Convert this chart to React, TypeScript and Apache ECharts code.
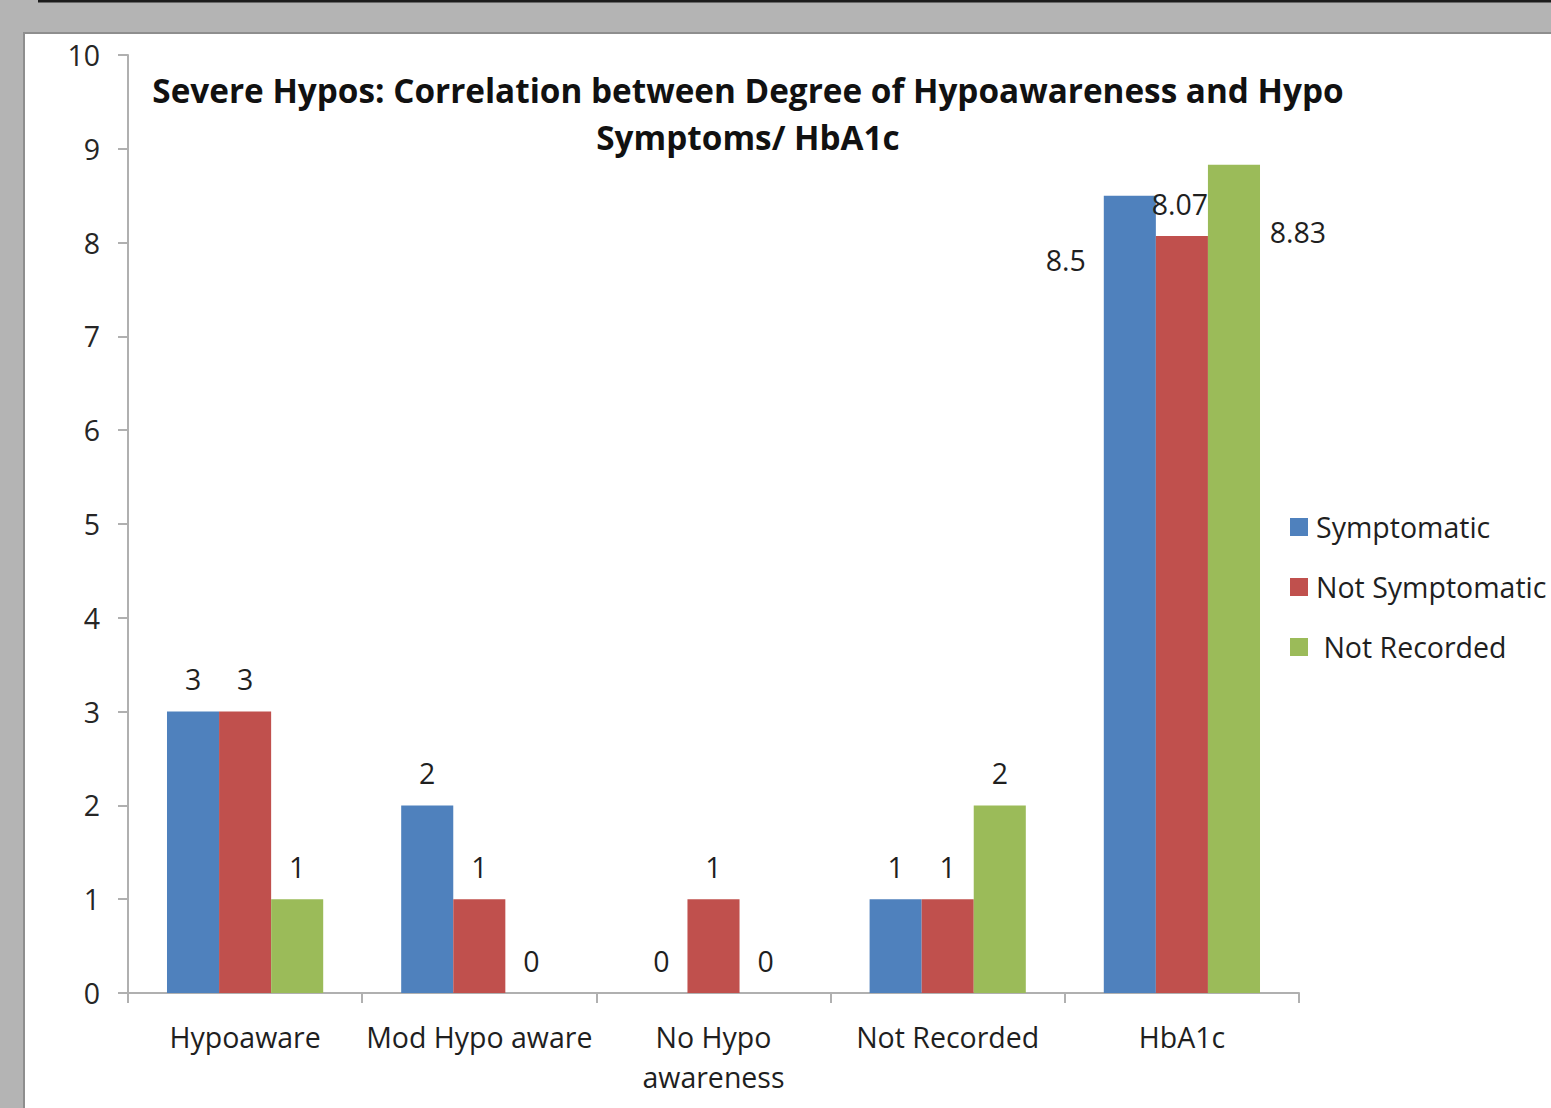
import React, { useEffect, useRef } from "react";
import * as echarts from "echarts";

const categories = ["Hypoaware", "Mod Hypo aware", "No Hypo awareness", "Not Recorded", "HbA1c"];
const seriesNames = ["Symptomatic", "Not Symptomatic", " Not Recorded"];
const symptomatic = [3, 2, 0, 1, 8.5];
const notSymptomatic = [3, 1, 1, 1, 8.07];
const notRecorded = [1, 0, 0, 2, 8.83];
const yTicks = [0, 10, 1];
const colors = ["#4F81BD", "#C0504D", "#9BBB59"];
const titleText = "Severe Hypos: Correlation between Degree of Hypoawareness and Hypo\nSymptoms/ HbA1c";

// label offsets for the HbA1c group (styling only)
const hbOffsets: [number, number][] = [[-64, 97], [-2, 0], [64, 100]];

const FONT = "'Open Sans', sans-serif";
const FS = 28.5;

export default function App() {
  const ref = useRef<HTMLDivElement>(null);
  useEffect(() => {
    if (!ref.current) return;
    const chart = echarts.init(ref.current, null, { renderer: "svg" });
    const allData = [symptomatic, notSymptomatic, notRecorded];
    const series = allData.map((vals, si) => ({
      name: seriesNames[si],
      type: "bar",
      barGap: "0%",
      barCategoryGap: "33.3%",
      itemStyle: { color: colors[si] },
      label: {
        show: true,
        position: "top",
        distance: 18,
        fontFamily: FONT,
        fontSize: FS,
        color: "#1f1f1f",
      },
      data: vals.map((v, i) =>
        i === categories.length - 1
          ? { value: v, label: { offset: hbOffsets[si] } }
          : v
      ),
    }));
    chart.setOption({
      animation: false,
      backgroundColor: "#b4b4b4",
      graphic: [
        {
          type: "rect",
          z: -10,
          shape: { x: 24, y: 33, width: 1540, height: 1100 },
          style: { fill: "#ffffff", stroke: "#8e8e8e", lineWidth: 2 },
        },
        {
          type: "line",
          z: -10,
          shape: { x1: 38, y1: 1, x2: 1551, y2: 1 },
          style: { stroke: "#1c1c1c", lineWidth: 3 },
        },
      ],
      title: {
        text: titleText,
        left: 748,
        top: 66,
        textAlign: "center",
        padding: 0,
        textStyle: {
          fontFamily: FONT,
          fontWeight: "bold",
          fontSize: 33.3,
          lineHeight: 47,
          color: "#111111",
        },
      },
      legend: {
        orient: "vertical",
        left: 1290,
        top: 512,
        padding: 0,
        itemWidth: 18,
        itemHeight: 18,
        itemGap: 30,
        icon: "rect",
        data: seriesNames,
        textStyle: {
          fontFamily: FONT,
          fontSize: FS,
          lineHeight: 30,
          color: "#1f1f1f",
          padding: [0, 0, 0, 3],
        },
      },
      grid: { left: 128, right: 252, top: 55, bottom: 115, containLabel: false },
      xAxis: {
        type: "category",
        data: categories,
        axisLine: { lineStyle: { color: "#b0b0b0", width: 2 } },
        axisTick: { show: true, length: 10, lineStyle: { color: "#b0b0b0", width: 2 } },
        axisLabel: {
          fontFamily: FONT,
          fontSize: FS,
          lineHeight: 40,
          color: "#1f1f1f",
          margin: 24,
          interval: 0,
          formatter: (v: string) => (v === "No Hypo awareness" ? "No Hypo\nawareness" : v),
        },
        splitLine: { show: false },
      },
      yAxis: {
        type: "value",
        min: yTicks[0],
        max: yTicks[1],
        interval: yTicks[2],
        axisLine: { show: true, lineStyle: { color: "#b0b0b0", width: 2 } },
        axisTick: { show: true, length: 10, lineStyle: { color: "#b0b0b0", width: 2 } },
        axisLabel: {
          fontFamily: FONT,
          fontSize: FS,
          color: "#262626",
          margin: 28,
        },
        splitLine: { show: false },
      },
      series,
    });
    return () => chart.dispose();
  }, []);
  return (
    <div
      ref={ref}
      style={{ position: "absolute", left: 0, top: 0, width: 1551, height: 1108 }}
    />
  );
}
